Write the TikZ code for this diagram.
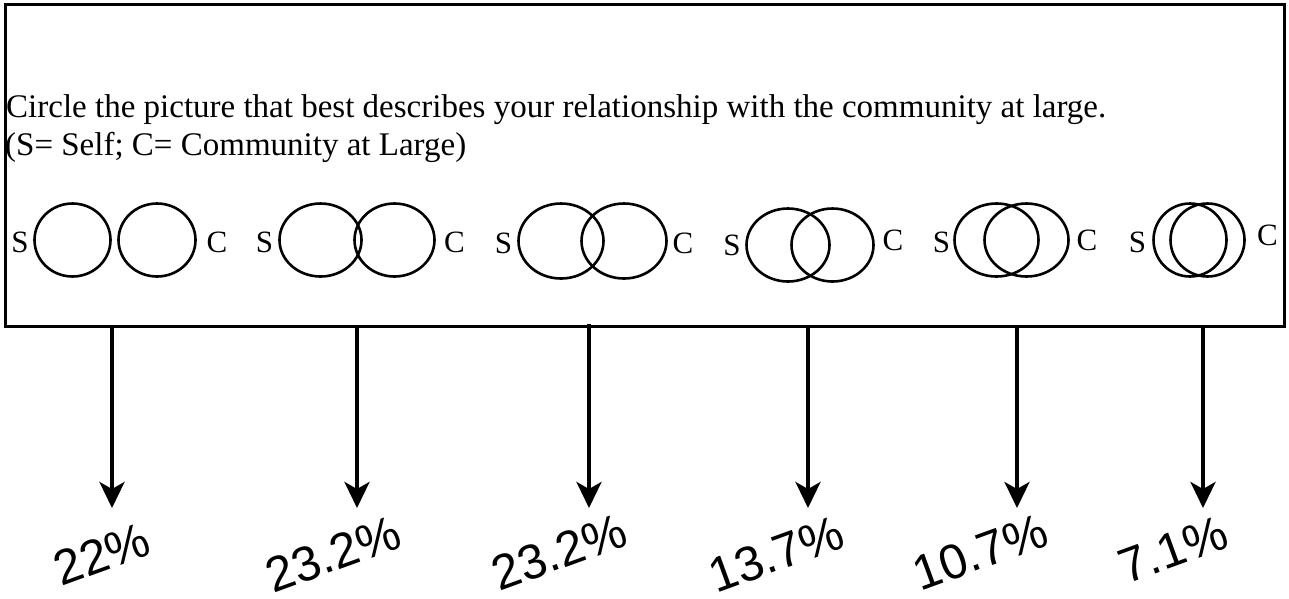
\documentclass[tikz,border=0pt]{standalone}
\usepackage{fontspec}
\setmainfont{Liberation Serif}
\newfontfamily\pctfont{Liberation Sans}
\usetikzlibrary{arrows.meta,shapes.geometric}
\begin{document}
\begin{tikzpicture}[x=1pt,y=-1pt,
  frame/.style={draw=black, line width=3pt, inner sep=0pt},
  ring/.style={draw=black, line width=2.6pt, ellipse, inner sep=0pt},
  lab/.style={font=\fontsize{31}{31}\selectfont, inner sep=0pt, anchor=base},
  pct/.style={font=\pctfont\fontsize{49}{49}\selectfont, rotate=20, inner sep=0pt},
  arr/.style={line width=4pt, -{Stealth[length=26pt,width=25pt,inset=7pt]}},
  txt/.style={font=\fontsize{33}{38}\selectfont, inner sep=0pt, anchor=base west}]
\useasboundingbox (0,0) rectangle (1289,598);
\node[frame, minimum width=1279pt, minimum height=322pt, anchor=north west] (box) at (4,3) {};
\node[txt] (t1) at (6,117) {Circle the picture that best describes your relationship with the community at large.};
\node[txt] (t2) at (5,155) {(S= Self; C= Community at Large)};
% set 1
\node[ring, minimum width=76pt, minimum height=73pt] (s1a) at (72.5,240) {};
\node[ring, minimum width=77pt, minimum height=73pt] (s1b) at (157,240) {};
\node[lab] (s1s) at (20,252) {S};
\node[lab] (s1c) at (217,252) {C};
% set 2
\node[ring, minimum width=82pt, minimum height=73pt] (s2a) at (320.5,240) {};
\node[ring, minimum width=80pt, minimum height=73pt] (s2b) at (394.5,240) {};
\node[lab] (s2s) at (264.5,252) {S};
\node[lab] (s2c) at (454.5,252) {C};
% set 3
\node[ring, minimum width=85pt, minimum height=75pt] (s3a) at (561,241) {};
\node[ring, minimum width=85pt, minimum height=75pt] (s3b) at (624,241) {};
\node[lab] (s3s) at (503.5,253) {S};
\node[lab] (s3c) at (683,253) {C};
% set 4
\node[ring, minimum width=83pt, minimum height=73pt] (s4a) at (788,245) {};
\node[ring, minimum width=82pt, minimum height=73pt] (s4b) at (832.5,245) {};
\node[lab] (s4s) at (732,255) {S};
\node[lab] (s4c) at (893,250) {C};
% set 5
\node[ring, minimum width=84pt, minimum height=73pt] (s5a) at (996.5,240) {};
\node[ring, minimum width=84pt, minimum height=73pt] (s5b) at (1026.5,240) {};
\node[lab] (s5s) at (941.5,252) {S};
\node[lab] (s5c) at (1087,250) {C};
% set 6
\node[ring, minimum width=73pt, minimum height=73pt] (s6a) at (1190,240) {};
\node[ring, minimum width=74pt, minimum height=73pt] (s6b) at (1207.5,240) {};
\node[lab] (s6s) at (1137.5,252) {S};
\node[lab] (s6c) at (1267.5,245) {C};
% percentages
\node[pct] (p1) at (102,554) {22\%};
\node[pct] (p2) at (333,554) {23.2\%};
\node[pct] (p3) at (559,552) {23.2\%};
\node[pct] (p4) at (776,554) {13.7\%};
\node[pct] (p5) at (980,552) {10.7\%};
\node[pct] (p6) at (1173,550) {7.1\%};
% arrow tips
\coordinate (e1) at (112,508);
\coordinate (e2) at (357,508);
\coordinate (e3) at (589,508);
\coordinate (e4) at (808,508);
\coordinate (e5) at (1017,508);
\coordinate (e6) at (1203,508);
\draw[arr] (box.south -| e1) -- (e1);
\draw[arr] (box.south -| e2) -- (e2);
\draw[arr] ([yshift=4pt]box.south -| e3) -- (e3);
\draw[arr] (box.south -| e4) -- (e4);
\draw[arr] (box.south -| e5) -- (e5);
\draw[arr] (box.south -| e6) -- (e6);
\end{tikzpicture}
\end{document}
